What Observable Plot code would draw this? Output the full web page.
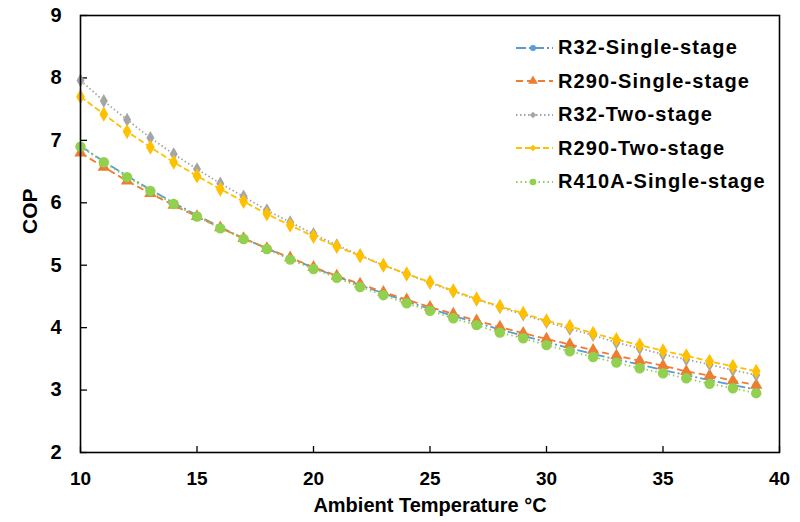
<!DOCTYPE html>
<html>
<head>
<meta charset="utf-8">
<script src="https://cdn.jsdelivr.net/npm/d3@7"></script>
<script src="https://cdn.jsdelivr.net/npm/@observablehq/plot@0.6"></script>
<style>
  html, body { margin: 0; padding: 0; background: #fff; }
  #wrap { position: relative; width: 800px; height: 522px; font-family: "Liberation Sans", Arial, sans-serif; }
  #legend { position: absolute; left: 516px; top: 31px; }
  .row { display: flex; align-items: center; height: 33.5px; }
  .row span { font-weight: bold; font-size: 20px; letter-spacing: 1.1px; color: #000; margin-left: 4px; white-space: nowrap; }
</style>
</head>
<body>
<div id="wrap"><div id="legend"></div></div>
<script>
// ---- data ----
const temps = [10,11,12,13,14,15,16,17,18,19,20,21,22,23,24,25,26,27,28,29,30,31,32,33,34,35,36,37,38,39];
const r32Single   = [6.91,6.66,6.43,6.21,6.00,5.80,5.61,5.43,5.27,5.11,4.96,4.82,4.68,4.55,4.42,4.30,4.19,4.08,3.97,3.87,3.77,3.67,3.58,3.49,3.41,3.32,3.24,3.16,3.08,3.01];
const r290Single  = [6.80,6.57,6.35,6.15,5.96,5.78,5.60,5.43,5.27,5.12,4.97,4.83,4.70,4.57,4.45,4.33,4.22,4.11,4.01,3.91,3.82,3.73,3.64,3.55,3.47,3.39,3.30,3.23,3.15,3.08];
const r32Two      = [7.96,7.63,7.33,7.04,6.78,6.54,6.31,6.10,5.88,5.69,5.50,5.32,5.16,5.00,4.86,4.72,4.58,4.45,4.33,4.21,4.09,3.98,3.88,3.76,3.67,3.57,3.49,3.41,3.32,3.24];
const r290Two     = [7.70,7.42,7.14,6.89,6.65,6.43,6.22,6.02,5.82,5.64,5.46,5.30,5.15,5.00,4.86,4.73,4.59,4.46,4.34,4.23,4.11,4.02,3.91,3.81,3.72,3.63,3.55,3.46,3.38,3.30];
const r410aSingle = [6.90,6.65,6.41,6.19,5.98,5.78,5.59,5.42,5.26,5.09,4.94,4.80,4.65,4.52,4.39,4.27,4.15,4.04,3.92,3.83,3.72,3.62,3.53,3.44,3.35,3.27,3.19,3.10,3.03,2.95];
const seriesNames = ["R32-Single-stage","R290-Single-stage","R32-Two-stage","R290-Two-stage","R410A-Single-stage"];
const xTicks = [10,15,20,25,30,35,40];
const yTicks = [2,3,4,5,6,7,8,9];
const xTitle = "Ambient Temperature °C";
const yTitle = "COP";

// ---- styles ----
const values = [r32Single, r290Single, r32Two, r290Two, r410aSingle];
const styles = [
  {color: "#5B9BD5", dash: "10,3,2,3", symbol: "circle",   r: 3.3, lr: 3.0, w: 1.8},
  {color: "#ED7D31", dash: "7,4",      symbol: "triangle", r: 4.6, lr: 3.6, w: 1.8},
  {color: "#A5A5A5", dash: "1.5,2.5",  symbol: "diamond",  r: 4.2, lr: 3.0, w: 1.8},
  {color: "#FFC000", dash: "6,3",      symbol: "diamond",  r: 4.6, lr: 3.0, w: 1.8},
  {color: "#92D050", dash: "1.5,3",    symbol: "circle",   r: 5.2, lr: 3.3, w: 1.8}
];

const W = 800, H = 522, mL = 80, mR = 21, mT = 15, mB = 70;
const plotW = W - mL - mR, plotH = H - mT - mB;

const seriesMarks = [];
values.forEach((vals, i) => {
  const s = styles[i];
  const rows = temps.map((t, j) => ({t, v: vals[j], name: seriesNames[i]}));
  seriesMarks.push(Plot.line(rows, {x: "t", y: "v", stroke: s.color, strokeWidth: s.w, strokeDasharray: s.dash, strokeLinecap: "butt"}));
  seriesMarks.push(Plot.dot(rows, {x: "t", y: "v", fill: s.color, stroke: "none", symbol: s.symbol, r: s.r}));
});

const chart = Plot.plot({
  width: W, height: H,
  marginLeft: mL, marginRight: mR, marginTop: mT, marginBottom: mB,
  x: {domain: [10, 40]},
  y: {domain: [2, 9]},
  style: {fontFamily: "'Liberation Sans', Arial, sans-serif", fontWeight: "bold", color: "#000", background: "#fff", overflow: "visible"},
  marks: [
    Plot.tickX(xTicks, {x: d => d, stroke: "#000", strokeWidth: 1.3, insetTop: plotH - 6}),
    Plot.tickY(yTicks, {y: d => d, stroke: "#000", strokeWidth: 1.3, insetRight: plotW - 7}),
    Plot.axisX(xTicks, {tickSize: 0, tickPadding: 19, tickFormat: d3.format("d"), fontSize: 19, fontWeight: "bold", label: null}),
    Plot.axisY(yTicks, {tickSize: 0, tickPadding: 19, tickFormat: d3.format("d"), fontSize: 20, fontWeight: "bold", label: null}),
    Plot.text([xTitle], {frameAnchor: "bottom", dy: 59, text: d => d, fontSize: 20, fontWeight: "bold", letterSpacing: 1, fill: "#000"}),
    Plot.text([yTitle], {frameAnchor: "left", dx: -50, rotate: -90, text: d => d, fontSize: 21, fontWeight: "bold", letterSpacing: 2, fill: "#000"}),
    ...seriesMarks,
    Plot.frame({stroke: "#000", strokeWidth: 1.6})
  ]
});
document.getElementById("wrap").prepend(chart);

// ---- legend ----
const legend = document.getElementById("legend");
const symMap = {circle: d3.symbolCircle, triangle: d3.symbolTriangle, diamond: d3.symbolDiamond2 || d3.symbolDiamond};
seriesNames.forEach((name, i) => {
  const s = styles[i];
  const row = document.createElement("div");
  row.className = "row";
  const ns = "http://www.w3.org/2000/svg";
  const svg = document.createElementNS(ns, "svg");
  svg.setAttribute("width", 38); svg.setAttribute("height", 20);
  const line = document.createElementNS(ns, "line");
  line.setAttribute("x1", 0); line.setAttribute("x2", 37); line.setAttribute("y1", 10); line.setAttribute("y2", 10);
  line.setAttribute("stroke", s.color); line.setAttribute("stroke-width", 1.8); line.setAttribute("stroke-dasharray", s.dash);
  svg.appendChild(line);
  const p = document.createElementNS(ns, "path");
  p.setAttribute("d", d3.symbol(symMap[s.symbol], Math.PI * s.lr * s.lr)());
  p.setAttribute("transform", "translate(17,10)");
  p.setAttribute("fill", s.color);
  svg.appendChild(p);
  row.appendChild(svg);
  const t = document.createElement("span");
  t.textContent = name;
  row.appendChild(t);
  legend.appendChild(row);
});
</script>
</body>
</html>
